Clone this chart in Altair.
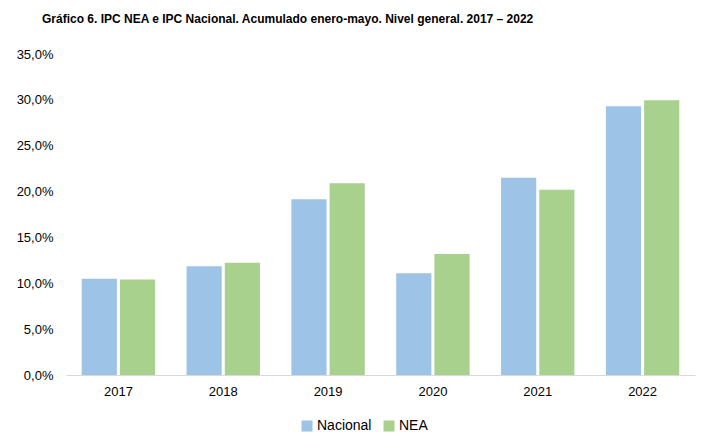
import altair as alt
import pandas as pd

years = ["2017", "2018", "2019", "2020", "2021", "2022"]
nacional = [10.5, 11.85, 19.15, 11.1, 21.5, 29.3]
nea = [10.4, 12.25, 20.9, 13.2, 20.2, 29.95]
series = ["Nacional", "NEA"]
colors = ["#9DC3E6", "#A9D18E"]
y_ticks = [0, 5, 10, 15, 20, 25, 30, 35]

rows = []
for i, y in enumerate(years):
    rows.append({"year": y, "serie": "Nacional", "value": nacional[i]})
    rows.append({"year": y, "serie": "NEA", "value": nea[i]})
df = pd.DataFrame(rows)

FONT = "Liberation Sans"

chart = alt.Chart(df).mark_bar().encode(
    x=alt.X("year:N", sort=years,
            scale=alt.Scale(paddingInner=0.3, paddingOuter=0.15),
            axis=alt.Axis(title=None, labelAngle=0, ticks=False, domainColor="#D9D9D9",
                          labelFontSize=13, labelFont=FONT, labelColor="#000000",
                          labelPadding=10)),
    xOffset=alt.XOffset("serie:N", sort=series, scale=alt.Scale(paddingInner=0.08)),
    y=alt.Y("value:Q", scale=alt.Scale(domain=[0, 35]),
            axis=alt.Axis(title=None, values=y_ticks, grid=False, domain=False, ticks=False,
                          labelExpr="replace(format(datum.value, '.1f'), '.', ',') + '%'",
                          labelFontSize=13, labelFont=FONT, labelColor="#000000",
                          labelPadding=13)),
    color=alt.Color("serie:N", sort=series,
                    scale=alt.Scale(domain=series, range=colors),
                    legend=alt.Legend(title=None, orient="none", direction="horizontal",
                                      legendX=234, legendY=365, symbolType="square",
                                      symbolSize=121, symbolStrokeWidth=0,
                                      labelFontSize=14, labelFont=FONT,
                                      labelColor="#000000", columnPadding=10,
                                      labelOffset=3)),
).properties(
    width=629,
    height=321,
    padding={"left": 58, "top": 46, "right": 5, "bottom": 70},
    autosize=alt.AutoSizeParams(type="none"),
    title=alt.TitleParams(
        "Gráfico 6. IPC NEA e IPC Nacional. Acumulado enero-mayo. Nivel general. 2017 – 2022",
        anchor="start", frame="group", dx=-24, offset=22, fontSize=12, font=FONT,
        fontWeight="bold", color="#000000"),
).configure_view(stroke=None)

chart.save("out.html", embed_options={"renderer": "svg", "actions": False})
